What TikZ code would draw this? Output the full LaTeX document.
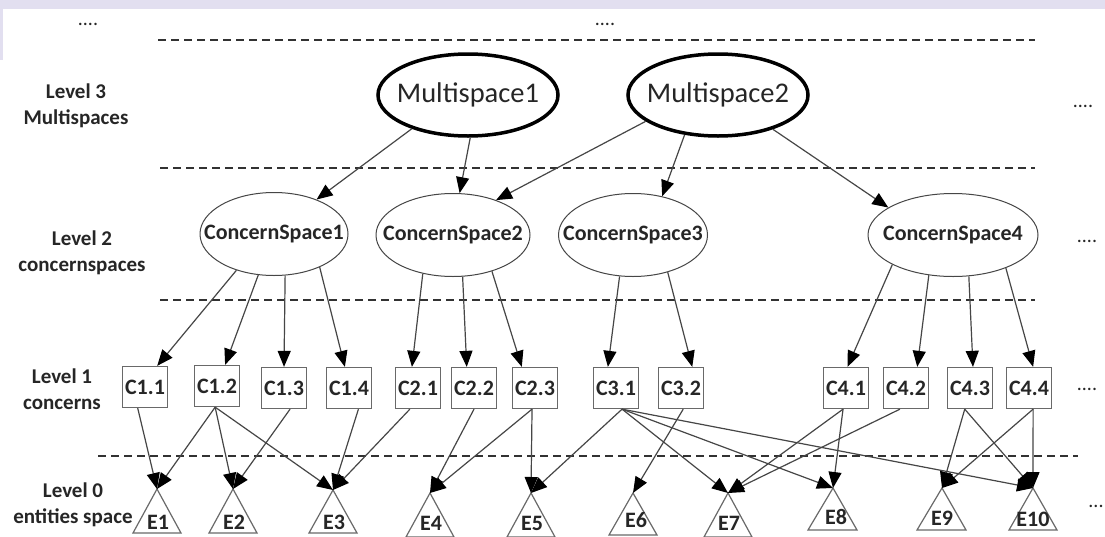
\documentclass[tikz,border=0pt]{standalone}
\usepackage{fontspec}
\setmainfont{Carlito}
\usetikzlibrary{arrows.meta,shapes.geometric}

\definecolor{txt}{RGB}{38,38,38}
\definecolor{ln}{RGB}{70,70,70}
\definecolor{dl}{RGB}{50,50,50}
\definecolor{bx}{RGB}{105,105,105}
\definecolor{band}{RGB}{226,223,240}

\newcommand{\inner}[1]{\makebox[0pt]{#1}}

\begin{document}
\begin{tikzpicture}[x=1pt,y=-1pt,
  lvl/.style={align=center,text=txt,font=\bfseries\fontsize{21}{26}\selectfont},
  ms/.style={ellipse,draw=black,line width=3.5pt,inner sep=0pt,minimum width=180pt,minimum height=82pt,text=txt,font=\fontsize{28.5}{30}\selectfont},
  cs/.style={ellipse,draw=ln,line width=1pt,inner sep=0pt,minimum height=83pt,text=txt,font=\bfseries\fontsize{22}{25}\selectfont},
  cc/.style={draw=bx,line width=1.3pt,inner sep=0pt,minimum width=45pt,minimum height=41pt,text=txt,font=\bfseries\fontsize{22}{24}\selectfont},
  ent/.style={text=txt,font=\bfseries\fontsize{22}{24}\selectfont},
  dots/.style={text=txt,font=\fontsize{20}{22}\selectfont},
  tri/.style={draw=bx,line width=1.2pt},
  lay/.style={draw=dl,line width=2.5pt,dash pattern=on 8pt off 5pt},
  arr/.style={draw=ln,line width=1.2pt,-{Triangle[length=16pt,width=13pt,color=black]}}]

\useasboundingbox (0,0) rectangle (1105,536);
\fill[white] (0,0) rectangle (1105,536);
\fill[band] (0,0) rectangle (1105,9);
\fill[band] (0,9) rectangle (3,60);

% layer borders
\draw[lay] (158,40) -- (1035,40);
\draw[lay] (160,168) -- (1035,168);
\draw[lay] (160,300) -- (1035,300);
\draw[lay] (98,456) -- (1078,456);

\node[dots] (d0) at (88,24) {....};
\node[dots] (d1) at (605,24) {....};
\node[dots] (d3) at (1083,106) {....};
\node[dots] (d2) at (1087,241) {....};
\node[dots] (d4) at (1087,389) {....};
\node[dots] (d5) at (1096,506) {...};

\node[lvl] (lv3) at (76,106) {Level 3\\Multispaces};
\node[lvl] (lv2) at (82,253) {Level 2\\concernspaces};
\node[lvl] (lv1) at (62,389) {Level 1\\concerns};
\node[lvl] (lv0) at (73,505) {Level 0\\entities space};

\node[ms] (m1) at (468,95) {\inner{Multispace1}};
\node[ms] (m2) at (718,95) {\inner{Multispace2}};

\node[cs,minimum width=148pt] (cs1) at (274,234) {\inner{ConcernSpace1}};
\node[cs,minimum width=154pt] (cs2) at (453,235) {\inner{ConcernSpace2}};
\node[cs,minimum width=149pt] (cs3) at (633,235) {\inner{ConcernSpace3}};
\node[cs,minimum width=170pt] (cs4) at (953,235) {\inner{ConcernSpace4}};

\node[cc] (c11) at (145,387) {C1.1};
\node[cc] (c12) at (217,386) {C1.2};
\node[cc] (c13) at (284,388) {C1.3};
\node[cc] (c14) at (349,388) {C1.4};
\node[cc] (c21) at (418,388) {C2.1};
\node[cc] (c22) at (474,388) {C2.2};
\node[cc] (c23) at (535,388) {C2.3};
\node[cc] (c31) at (616,388) {C3.1};
\node[cc] (c32) at (681,388) {C3.2};
\node[cc] (c41) at (846,388) {C4.1};
\node[cc] (c42) at (906,388) {C4.2};
\node[cc] (c43) at (970,388) {C4.3};
\node[cc] (c44) at (1029,388) {C4.4};

% entities
\draw[tri] (133,533) -- (157,489) coordinate (e1) -- (181,533) -- cycle;
\draw[tri] (209,533) -- (233,489) coordinate (e2) -- (257,533) -- cycle;
\draw[tri] (309,533) -- (333,490) coordinate (e3) -- (357,533) -- cycle;
\draw[tri] (406,537) -- (430,493) coordinate (e4) -- (454,537) -- cycle;
\draw[tri] (507,537) -- (531,493) coordinate (e5) -- (555,537) -- cycle;
\draw[tri] (609,535) -- (633,493) coordinate (e6) -- (657,535) -- cycle;
\draw[tri] (704,537) -- (728,493) coordinate (e7) -- (752,537) -- cycle;
\draw[tri] (808,530) -- (833,488) coordinate (e8) -- (857,530) -- cycle;
\draw[tri] (917,530) -- (942,488) coordinate (e9) -- (966,530) -- cycle;
\draw[tri] (1009,530) -- (1033,488) coordinate (e10) -- (1057,530) -- cycle;

\node[ent] (n1) at (158,522) {E1};
\node[ent] (n2) at (234,522) {E2};
\node[ent] (n3) at (334,522) {E3};
\node[ent] (n4) at (431,523) {E4};
\node[ent] (n5) at (532,523) {E5};
\node[ent] (n6) at (636,520) {E6};
\node[ent] (n7) at (729,523) {E7};
\node[ent] (n8) at (836,517) {E8};
\node[ent] (n9) at (942,518) {E9};
\node[ent] (n10) at (1033,519) {E10};

\draw[arr] (m1.211) -- (cs1.39);
\draw[arr] (m1.273) -- (cs2.81);
\draw[arr] (m2.200) -- (cs2.39);
\draw[arr] (m2.230) -- (cs3.53);
\draw[arr] (m2.328) -- (cs4.157);

\draw[arr] (cs1.224) -- (c11.60);
\draw[arr] (cs1.249) -- (c12.69);
\draw[arr] (cs1.285) -- (c13.90);
\draw[arr] (cs1.324) -- (c14.101);
\draw[arr] (cs2.232) -- (c21.106);
\draw[arr] (cs2.283) -- (c22.109);
\draw[arr] (cs2.317) -- (c23.122);
\draw[arr] (cs3.252) -- (c31.111);
\draw[arr] (cs3.313) -- (c32.62);
\draw[arr] (cs4.206) -- (c41.86);
\draw[arr] (cs4.239) -- (c42.62);
\draw[arr] (cs4.291) -- (c43.82);
\draw[arr] (cs4.328) -- (c44.79);

\draw[arr] (c11.251) -- (e1);
\draw[arr] (c12.265) -- (e1);
\draw[arr] (c12.265) -- (e2);
\draw[arr] (c12.265) -- (e3);
\draw[arr] (c13.286) -- (e2);
\draw[arr] (c14.294) -- (e3);
\draw[arr] (c21.249) -- (e3);
\draw[arr] (c22.270) -- (e4);
\draw[arr] (c23.262) -- (e4);
\draw[arr] (c23.262) -- (e5);
\draw[arr] (c31.286) -- (e5);
\draw[arr] (c31.286) -- (e7);
\draw[arr] (c31.286) -- (e8);
\draw[arr] (c31.286) -- (e10);
\draw[arr] (c32.276) -- (e6);
\draw[arr] (c41.262) -- (e7);
\draw[arr] (c41.262) -- (e8);
\draw[arr] (c42.254) -- (e7);
\draw[arr] (c43.256) -- (e9);
\draw[arr] (c43.256) -- (e10);
\draw[arr] (c44.281) -- (e9);
\draw[arr] (c44.281) -- (e10);

\end{tikzpicture}
\end{document}
